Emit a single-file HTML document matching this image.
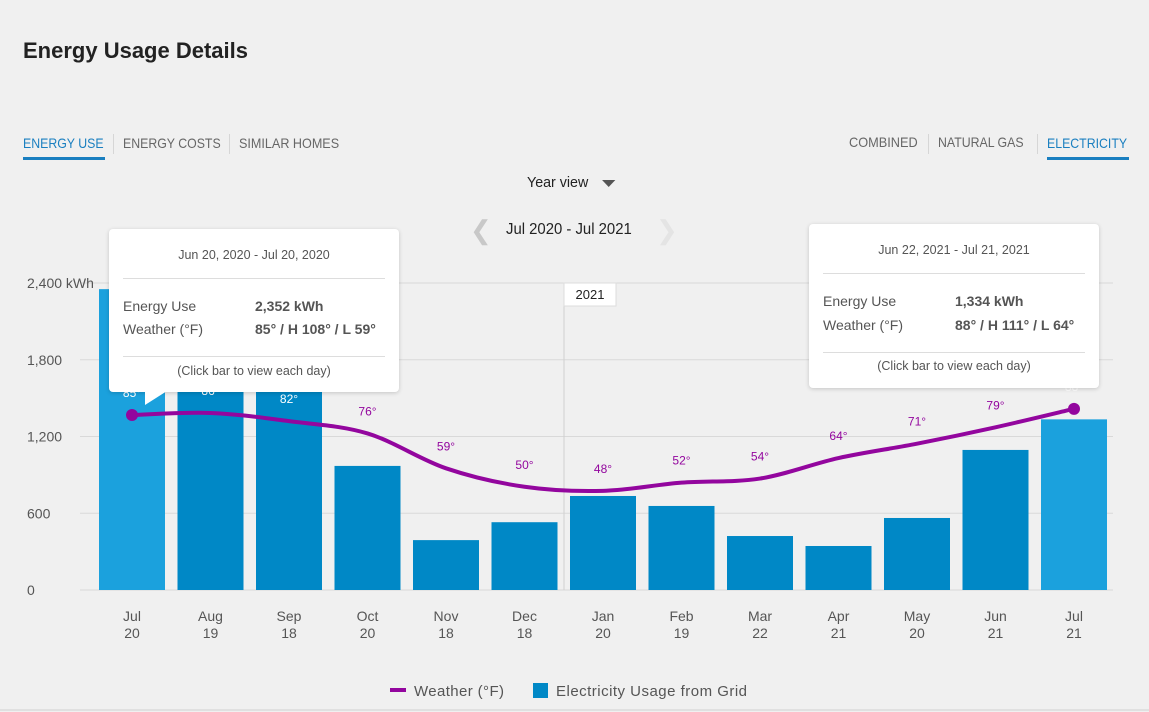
<!DOCTYPE html>
<html><head><meta charset="utf-8">
<style>
html,body{margin:0;padding:0;background:#f0f0f0;width:1149px;height:712px;overflow:hidden;font-family:"Liberation Sans",sans-serif;}
#title{position:absolute;left:23px;top:38px;font-size:22px;font-weight:bold;color:#222;}
.tab{position:absolute;top:135px;font-size:14px;color:#666;transform:scaleX(0.88);transform-origin:0 0;white-space:nowrap}
.tab.active{color:#1a7fc0;}
.sep{position:absolute;top:134px;width:1px;height:20px;background:#d6d6d6}
.uline{position:absolute;top:157px;height:3px;background:#1a7fc0}
.tip{position:absolute;background:#fff;border-radius:4px;box-shadow:0 1px 4px rgba(0,0,0,0.18);color:#555;font-size:14px}
.tip .hd{position:absolute;left:0;right:0;text-align:center;font-size:12.5px}
.tip .hr{position:absolute;left:14px;right:14px;height:1px;background:#ddd}
.tip .k{position:absolute;left:14px}
.tip .v{position:absolute;left:146px;font-weight:bold}
</style></head><body>
<div id="title">Energy Usage Details</div>
<div class="tab active" style="left:23px">ENERGY USE</div>
<div class="uline" style="left:23px;width:82px"></div>
<div class="sep" style="left:113px"></div>
<div class="tab" style="left:123px">ENERGY COSTS</div>
<div class="sep" style="left:229px"></div>
<div class="tab" style="left:239px;transform:scaleX(0.9)">SIMILAR HOMES</div>
<div class="tab" style="left:849px;top:134px;transform:scaleX(0.91)">COMBINED</div>
<div class="sep" style="left:928px"></div>
<div class="tab" style="left:938px;top:134px">NATURAL GAS</div>
<div class="sep" style="left:1037px"></div>
<div class="tab active" style="left:1047px">ELECTRICITY</div>
<div class="uline" style="left:1047px;width:82px"></div>
<div style="position:absolute;left:527px;top:174px;font-size:15px;color:#222;transform:scaleX(0.95);transform-origin:0 0;white-space:nowrap">Year view <span style="display:inline-block;margin-left:10px;width:0;height:0;border-left:7px solid transparent;border-right:7px solid transparent;border-top:7px solid #555;vertical-align:middle"></span></div>
<div style="position:absolute;left:470px;top:215px;font-size:26px;color:#c8c8c8">&#x276E;</div>
<div style="position:absolute;left:506px;top:221px;font-size:16px;color:#222;transform:scaleX(0.93);transform-origin:0 0;white-space:nowrap">Jul 2020 - Jul 2021</div>
<div style="position:absolute;left:656px;top:215px;font-size:26px;color:#e4e4e4">&#x276F;</div>

<svg id="chart" width="1149" height="712" style="position:absolute;left:0;top:0"></svg>

<div class="tip" style="left:109px;top:229px;width:290px;height:163px">
 <div class="hd" style="top:19px">Jun 20, 2020 - Jul 20, 2020</div>
 <div class="hr" style="top:49px"></div>
 <div class="k" style="top:69px">Energy Use</div><div class="v" style="top:69px">2,352 kWh</div>
 <div class="k" style="top:92px">Weather (°F)</div><div class="v" style="top:92px">85° / H 108° / L 59°</div>
 <div class="hr" style="top:127px"></div>
 <div class="hd" style="top:135px">(Click bar to view each day)</div>
</div>
<div style="position:absolute;left:145px;top:391px;width:0;height:0;border-right:22px solid transparent;border-top:14px solid #fff"></div>
<div class="tip" style="left:809px;top:224px;width:290px;height:164px">
 <div class="hd" style="top:19px">Jun 22, 2021 - Jul 21, 2021</div>
 <div class="hr" style="top:49px"></div>
 <div class="k" style="top:69px">Energy Use</div><div class="v" style="top:69px">1,334 kWh</div>
 <div class="k" style="top:93px">Weather (°F)</div><div class="v" style="top:93px">88° / H 111° / L 64°</div>
 <div class="hr" style="top:128px"></div>
 <div class="hd" style="top:135px">(Click bar to view each day)</div>
</div>

<script>
const months = ["Jul","Aug","Sep","Oct","Nov","Dec","Jan","Feb","Mar","Apr","May","Jun","Jul"];
const days = ["20","19","18","20","18","18","20","19","22","21","20","21","21"];
const usage = [2352,1750,1750,970,390,530,735,657,422,344,563,1095,1334];
const temps = [85,86,82,76,59,50,48,52,54,64,71,79,88];
const yTicks = [0,600,1200,1800,2400];
const selected = [0,12];

const svg = document.getElementById('chart');
const NS = 'http://www.w3.org/2000/svg';
const x0 = 132, step = 78.5, barW = 66;
const xPos = i => x0 + i*step;
const yScale = v => 590 - v*(307/2400);
const tScale = t => 415 - (t-85)*2.05;
function mk(tag, attrs){const e=document.createElementNS(NS,tag);for(const k in attrs)e.setAttribute(k,attrs[k]);svg.appendChild(e);return e;}

yTicks.forEach((v,i)=>{
  const y=yScale(v);
  const g=mk('line',{x1:80,x2:1113,y1:y,y2:y,stroke:'#d9d9d9','stroke-width':1});
  
  
  const t=mk('text',{x:27,y:y+5,'font-size':14,fill:'#555'});
  t.textContent = v===2400 ? '2,400 kWh' : v.toLocaleString('en-US');
  
  
});
const yd=mk('line',{x1:564,x2:564,y1:283,y2:590,stroke:'#d0d0d0'});


const yb=mk('rect',{x:564,y:283,width:52,height:23,fill:'#fff',stroke:'#ddd'});


const yt=mk('text',{x:590,y:299,'text-anchor':'middle','font-size':13,fill:'#222'});
yt.textContent='2021';



usage.forEach((v,i)=>{
  const y=yScale(v);
  const r=mk('rect',{x:xPos(i)-barW/2,y:y,width:barW,height:590-y,fill:selected.includes(i)?'#1ba1dd':'#0088c6'});
  
  
  const a=mk('text',{x:xPos(i),y:621,'text-anchor':'middle','font-size':14,fill:'#555'});
  a.textContent=months[i];
  
  
  const b=mk('text',{x:xPos(i),y:638,'text-anchor':'middle','font-size':14,fill:'#555'});
  b.textContent=days[i];
  
  
});

const pts=temps.map((t,i)=>[xPos(i),tScale(t)]);
let d='M'+pts[0][0]+','+pts[0][1];
for(let i=0;i<pts.length-1;i++){
  const p0=pts[Math.max(0,i-1)],p1=pts[i],p2=pts[i+1],p3=pts[Math.min(pts.length-1,i+2)];
  const c1=[p1[0]+(p2[0]-p0[0])/6,p1[1]+(p2[1]-p0[1])/6];
  const c2=[p2[0]-(p3[0]-p1[0])/6,p2[1]-(p3[1]-p1[1])/6];
  d+=' C'+c1+' '+c2+' '+p2;
}
const ln=mk('path',{d:d,fill:'none',stroke:'#93069e','stroke-width':4});


temps.forEach((t,i)=>{
  const lb=mk('text',{x:xPos(i),y:tScale(t)-18,'text-anchor':'middle','font-size':12,fill:i<3||i===12?'#fff':'#93069e'});
  lb.textContent=t+'°';
  
  
});
selected.forEach(i=>{
  const c=mk('circle',{cx:xPos(i),cy:tScale(temps[i]),r:6,fill:'#93069e'});
  
  
});
const l1=mk('line',{x1:390,x2:406,y1:690,y2:690,stroke:'#93069e','stroke-width':4});


const l1t=mk('text',{x:414,y:696,'font-size':15,fill:'#555',textLength:90});
l1t.textContent='Weather (°F)';


const l2=mk('rect',{x:533,y:683,width:15,height:15,fill:'#0088c6'});


const l2t=mk('text',{x:556,y:696,'font-size':15,fill:'#555',textLength:191});
l2t.textContent='Electricity Usage from Grid';


const bl=mk('line',{x1:0,x2:1149,y1:710,y2:710,stroke:'#d0d0d0'});


</script>
</body></html>
